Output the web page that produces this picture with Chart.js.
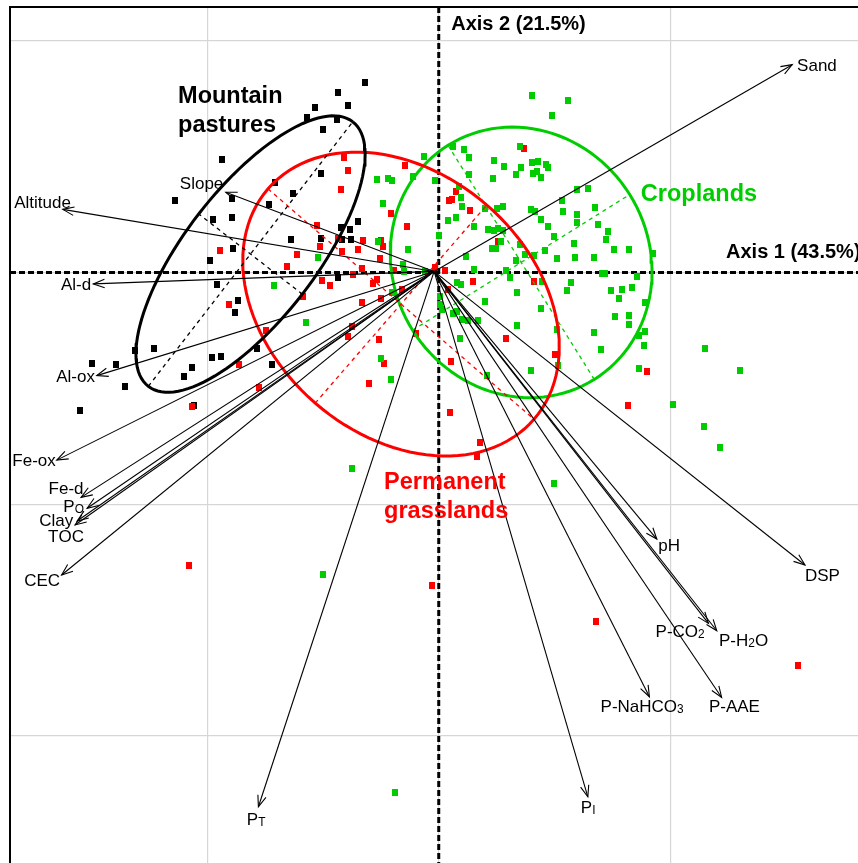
<!DOCTYPE html>
<html>
<head>
<meta charset="utf-8">
<script src="https://cdn.jsdelivr.net/npm/chart.js@4.4.0/dist/chart.umd.min.js"></script>
<style>
  html, body { margin: 0; padding: 0; background: #fff; overflow: hidden; }
  #wrap { width: 858px; height: 863px; position: relative; }
</style>
</head>
<body>
<div id="wrap"><canvas id="biplot" width="858" height="863"></canvas></div>
<script>
// Site scores on the first two PCA axes, by land use
const mountainPastures = [
  [-0.318,0.820],[-0.436,0.778],[-0.390,0.722],[-0.534,0.714],[-0.568,0.671],[-0.441,0.659],
  [-0.501,0.619],[-0.937,0.490],[-0.508,0.430],[-0.706,0.387],[-0.628,0.343],[-1.139,0.311],
  [-0.891,0.321],[-0.734,0.292],[-0.974,0.229],[-0.893,0.239],[-0.350,0.220],[-0.423,0.194],
  [-0.383,0.186],[-0.419,0.141],[-0.380,0.141],[-0.639,0.141],[-0.510,0.146],[-0.887,0.105],
  [-0.987,0.054],[-0.434,-0.021],[-0.956,-0.050],[-0.866,-0.122],[-0.881,-0.173],[-1.229,-0.327],
  [-1.312,-0.338],[-0.978,-0.366],[-0.942,-0.363],[-0.786,-0.328],[-1.064,-0.411],[-1.102,-0.450],
  [-0.721,-0.396],[-1.496,-0.394],[-1.394,-0.399],[-1.355,-0.491],[-1.548,-0.594],[-1.056,-0.576]
];

const permanentGrasslands = [
  [-0.411,0.495],[-0.393,0.443],[-0.145,0.464],[-0.424,0.360],[-0.206,0.256],[-0.138,0.200],
  [-0.527,0.203],[-0.435,0.149],[-0.329,0.137],[-0.513,0.112],[-0.945,0.095],[-0.613,0.079],
  [-0.417,0.093],[-0.350,0.098],[-0.254,0.061],[-0.655,0.025],[-0.333,0.017],[-0.372,-0.010],
  [-0.194,0.007],[-0.268,-0.028],[-0.285,-0.046],[-0.505,-0.036],[-0.470,-0.057],[-0.018,0.024],
  [-0.587,-0.103],[-0.249,-0.112],[-0.159,-0.072],[-0.333,-0.129],[-0.905,-0.140],[-0.746,-0.249],
  [-0.375,-0.231],[-0.390,-0.274],[-0.258,-0.287],[-0.098,-0.263],[-0.863,-0.398],[-0.238,-0.394],
  [-0.300,-0.478],[-0.775,-0.497],[-1.064,-0.578],[-1.077,-1.267],[-0.030,-1.352],[0.679,-1.505],
  [1.551,-1.699],[0.040,-0.071],[0.147,-0.040],[0.412,-0.040],[0.291,-0.285],[0.502,-0.354],
  [0.053,-0.382],[0.900,-0.427],[0.817,-0.573],[0.049,-0.603],[0.178,-0.735],[0.164,-0.795],
  [0.369,0.538],[0.074,0.351],[0.044,0.312],[0.057,0.314],[0.135,0.270],[0.255,0.133],
  [0.027,0.010],[-0.251,0.137],[-0.241,0.111]
];

const croplands = [
  [0.402,0.763],[0.557,0.743],[0.488,0.678],[0.063,0.543],[0.111,0.532],[0.350,0.544],
  [0.132,0.495],[0.239,0.486],[0.282,0.460],[0.403,0.475],[0.427,0.481],[0.357,0.452],
  [0.334,0.425],[0.462,0.466],[0.471,0.452],[0.405,0.428],[0.423,0.435],[0.442,0.410],
  [0.130,0.425],[0.235,0.405],[-0.017,0.399],[0.087,0.371],[0.596,0.360],[0.644,0.364],
  [0.096,0.324],[0.533,0.311],[0.099,0.285],[0.200,0.275],[0.252,0.277],[0.279,0.285],
  [0.399,0.273],[0.417,0.264],[0.536,0.265],[0.674,0.282],[0.075,0.238],[0.038,0.227],
  [0.442,0.230],[0.596,0.249],[0.597,0.218],[0.471,0.201],[0.687,0.208],[0.154,0.198],
  [0.211,0.185],[0.239,0.181],[0.256,0.191],[0.279,0.183],[0.000,0.160],[0.499,0.157],
  [0.733,0.177],[0.721,0.141],[-0.064,0.500],[-0.268,0.401],[-0.221,0.407],[-0.203,0.397],
  [-0.239,0.299],[-0.113,0.414],[-0.264,0.133],[-0.131,0.098],[-0.521,0.063],[-0.711,-0.057],
  [-0.156,0.034],[-0.151,0.005],[-0.059,0.006],[-0.202,-0.086],[-0.575,-0.215],[-0.249,-0.372],
  [-0.207,-0.460],[-0.373,-0.845],[-0.501,-1.306],[-0.189,-2.247],[0.228,0.105],[0.247,0.106],
  [0.269,0.134],[0.351,0.121],[0.584,0.127],[0.757,0.098],[0.822,0.098],[0.926,0.083],
  [0.118,0.069],[0.335,0.051],[0.373,0.080],[0.412,0.073],[0.459,0.096],[0.510,0.060],
  [0.589,0.064],[0.671,0.064],[0.154,0.013],[0.291,0.010],[0.308,-0.022],[0.448,-0.039],
  [0.571,-0.043],[0.553,-0.079],[0.704,-0.005],[0.719,-0.005],[0.855,-0.015],[0.080,-0.041],
  [0.098,-0.053],[0.337,-0.088],[0.743,-0.079],[0.790,-0.071],[0.833,-0.064],[0.779,-0.112],
  [0.892,-0.128],[0.006,-0.104],[0.006,-0.136],[0.015,-0.159],[0.061,-0.176],[0.078,-0.170],
  [0.101,-0.203],[0.127,-0.208],[0.169,-0.205],[0.200,-0.126],[0.442,-0.157],[0.340,-0.229],
  [0.763,-0.189],[0.823,-0.185],[0.821,-0.226],[0.891,-0.255],[0.864,-0.270],[0.885,-0.316],
  [0.671,-0.260],[0.092,-0.286],[0.511,-0.244],[0.702,-0.332],[0.515,-0.401],[0.400,-0.424],
  [0.210,-0.445],[0.867,-0.413],[1.150,-0.330],[1.302,-0.424],[1.013,-0.569],[1.147,-0.663],
  [1.215,-0.755],[0.498,-0.912]
];

// Variable loadings (arrow tips); "_" marks a subscript character
const variableNames = ['Sand','Slope','Altitude','Al-d','Al-ox','Fe-ox','Fe-d','P_O','Clay','TOC',
  'CEC','P_T','P_I','P-NaHCO_3','P-AAE','P-CO_2','P-H_2O','pH','DSP'];
const loadingX = [1.527,-0.920,-1.624,-1.492,-1.477,-1.650,-1.545,-1.519,-1.562,-1.571,
  -1.629,-0.779,0.644,0.910,1.222,1.165,1.201,0.942,1.582];
const loadingY = [0.898,0.347,0.273,-0.049,-0.445,-0.810,-0.971,-1.018,-1.073,-1.090,
  -1.306,-2.307,-2.264,-1.832,-1.835,-1.515,-1.547,-1.151,-1.263];

// Inertia ellipses per group: centre, semi-axes, orientation of the first semi-axis (degrees)
const groupNames = ['Mountain pastures','Permanent grasslands','Croplands'];
const ellipseCX = [-0.813,-0.163,0.356];
const ellipseCY = [0.080,-0.136,0.044];
const ellipseA = [0.722,0.760,0.596];
const ellipseB = [0.283,0.566,0.553];
const ellipseAngle = [52.3,-40.9,-58.0];

// Axis titles
const axisTitles = ['Axis 1 (43.5%)','Axis 2 (21.5%)'];

// ---------------- layout & style ----------------
const COLORS = ['#000000','#ff0000','#00cd00'];
const ARROW_ORIGIN = {x: -0.020, y: 0.005};
const X_RANGE = [-1.852, 1.811];
const Y_RANGE = [-2.550, 1.147];
// label centre offsets from each arrow tip, in pixels
const labelOffsets = [[24.7,-0.2],[-24.2,-9.8],[-20.2,-7.8],[-17.3,0],[-21.2,0],[-22.7,0],[-15,-9.8],
  [-13.5,-2.8],[-21,-1.5],[-9,11],[-19.5,5],[-2.3,12.3],[0.3,10.3],[-7.3,9.3],[12.8,8.7],
  [-28.3,7.7],[26.8,9.3],[12.3,6],[17.5,9.5]];
const FONT = '"Liberation Sans", Arial, Helvetica, sans-serif';

function squareMarker(color) {
  const c = document.createElement('canvas');
  c.width = 6; c.height = 7;
  const g = c.getContext('2d');
  g.fillStyle = color;
  g.fillRect(0, 0, 6, 7);
  return c;
}

function toPoints(list) { return list.map(p => ({x: p[0], y: p[1]})); }

function ellipseOutline(i) {
  const th = ellipseAngle[i] * Math.PI / 180, ct = Math.cos(th), st = Math.sin(th);
  const pts = [];
  for (let k = 0; k <= 120; k++) {
    const t = k * 2 * Math.PI / 120;
    const u = ellipseA[i] * Math.cos(t), v = ellipseB[i] * Math.sin(t);
    pts.push({x: ellipseCX[i] + u * ct - v * st, y: ellipseCY[i] + u * st + v * ct});
  }
  return pts;
}
function ellipseAxis(i, which) {
  const th = ellipseAngle[i] * Math.PI / 180;
  const r = which === 0 ? ellipseA[i] : ellipseB[i];
  const dx = which === 0 ? Math.cos(th) : -Math.sin(th);
  const dy = which === 0 ? Math.sin(th) : Math.cos(th);
  return [{x: ellipseCX[i] - r * dx, y: ellipseCY[i] - r * dy},
          {x: ellipseCX[i] + r * dx, y: ellipseCY[i] + r * dy}];
}

const datasets = [];
// arrows (top-most marks)
variableNames.forEach((n, i) => {
  datasets.push({
    label: n, data: [ARROW_ORIGIN, {x: loadingX[i], y: loadingY[i]}],
    showLine: true, borderColor: '#000', borderWidth: 1.1, pointRadius: 0, order: 1
  });
});
// ellipses and their axes
groupNames.forEach((n, i) => {
  datasets.push({ label: n + ' ellipse', data: ellipseOutline(i), showLine: true,
    borderColor: COLORS[i], borderWidth: 3, pointRadius: 0, tension: 0, order: 2 });
  [0, 1].forEach(w => datasets.push({ label: n + ' axis ' + w, data: ellipseAxis(i, w),
    showLine: true, borderColor: COLORS[i], borderWidth: 1.3, borderDash: [4, 4],
    pointRadius: 0, order: 2 }));
});
// site scores
const groupData = [mountainPastures, permanentGrasslands, croplands];
const groupOrder = [5, 4, 3];
groupData.forEach((g, i) => {
  datasets.push({ label: groupNames[i], data: toPoints(g), pointStyle: squareMarker(COLORS[i]),
    pointRadius: 4, order: groupOrder[i] });
});
// dashed principal axes
datasets.push({ label: 'axis1', data: [{x: X_RANGE[0], y: 0}, {x: X_RANGE[1], y: 0}], showLine: true,
  borderColor: '#000', borderWidth: 3, borderDash: [6, 3], pointRadius: 0, order: 6 });
datasets.push({ label: 'axis2', data: [{x: 0, y: Y_RANGE[1]}, {x: 0, y: Y_RANGE[0]}], showLine: true,
  borderColor: '#000', borderWidth: 3, borderDash: [6, 3], pointRadius: 0, order: 6 });

function drawRich(ctx, text, cx, cy, size) {
  // split into normal / subscript runs
  const runs = [];
  for (let k = 0; k < text.length; k++) {
    if (text[k] === '_' && k + 1 < text.length) { runs.push([text[k + 1], true]); k++; }
    else runs.push([text[k], false]);
  }
  const subSize = size * 0.7;
  let w = 0;
  runs.forEach(r => { ctx.font = (r[1] ? subSize : size) + 'px ' + FONT; w += ctx.measureText(r[0]).width; });
  let x = cx - w / 2;
  ctx.textAlign = 'left';
  ctx.textBaseline = 'alphabetic';
  const base = cy + size * 0.36;
  runs.forEach(r => {
    ctx.font = (r[1] ? subSize : size) + 'px ' + FONT;
    ctx.fillText(r[0], x, r[1] ? base + 1 : base);
    x += ctx.measureText(r[0]).width;
  });
}

const overlay = {
  id: 'overlay',
  beforeDatasetsDraw(chart) {
    const {ctx, chartArea: a} = chart;
    ctx.save();
    ctx.strokeStyle = '#000';
    ctx.lineWidth = 2;
    ctx.beginPath();
    ctx.moveTo(a.left, a.bottom + 5);
    ctx.lineTo(a.left, a.top);
    ctx.lineTo(a.right + 5, a.top);
    ctx.stroke();
    ctx.restore();
  },
  afterDatasetsDraw(chart) {
    const {ctx, scales: {x, y}} = chart;
    ctx.save();
    // arrow heads
    const ox = x.getPixelForValue(ARROW_ORIGIN.x), oy = y.getPixelForValue(ARROW_ORIGIN.y);
    ctx.strokeStyle = '#000';
    ctx.lineWidth = 1.1;
    loadingX.forEach((lx, i) => {
      const tx = x.getPixelForValue(lx), ty = y.getPixelForValue(loadingY[i]);
      const ang = Math.atan2(ty - oy, tx - ox), L = 12, h = 0.36;
      ctx.beginPath();
      ctx.moveTo(tx - L * Math.cos(ang - h), ty - L * Math.sin(ang - h));
      ctx.lineTo(tx, ty);
      ctx.lineTo(tx - L * Math.cos(ang + h), ty - L * Math.sin(ang + h));
      ctx.stroke();
    });
    // variable labels
    ctx.fillStyle = '#000';
    variableNames.forEach((n, i) => {
      const tx = x.getPixelForValue(loadingX[i]) + labelOffsets[i][0];
      const ty = y.getPixelForValue(loadingY[i]) + labelOffsets[i][1];
      drawRich(ctx, n, tx, ty, 17);
    });
    // group names
    ctx.textAlign = 'left';
    ctx.textBaseline = 'alphabetic';
    ctx.font = 'bold 23.5px ' + FONT;
    ctx.fillStyle = COLORS[0];
    ctx.fillText('Mountain', x.getPixelForValue(-1.126), y.getPixelForValue(0.731));
    ctx.fillText('pastures', x.getPixelForValue(-1.126), y.getPixelForValue(0.609));
    ctx.fillStyle = COLORS[1];
    ctx.fillText('Permanent', x.getPixelForValue(-0.236), y.getPixelForValue(-0.936));
    ctx.fillText('grasslands', x.getPixelForValue(-0.236), y.getPixelForValue(-1.058));
    ctx.fillStyle = COLORS[2];
    ctx.fillText('Croplands', x.getPixelForValue(0.873), y.getPixelForValue(0.309));
    // axis titles
    ctx.fillStyle = '#000';
    ctx.font = 'bold 20px ' + FONT;
    ctx.fillText(axisTitles[0], x.getPixelForValue(1.241), y.getPixelForValue(0.063));
    ctx.fillText(axisTitles[1], x.getPixelForValue(0.054), y.getPixelForValue(1.048));
    ctx.restore();
  }
};

const gridTicks = values => scale => { scale.ticks = values.map(v => ({value: v})); };

new Chart(document.getElementById('biplot'), {
  type: 'scatter',
  data: { datasets },
  options: {
    responsive: false,
    animation: false,
    events: [],
    layout: { autoPadding: false, padding: { left: 10, top: 7, right: 0, bottom: 0 } },
    plugins: { legend: { display: false }, tooltip: { enabled: false } },
    scales: {
      x: {
        type: 'linear', min: X_RANGE[0], max: X_RANGE[1],
        afterBuildTicks: gridTicks([-1, 0, 1]),
        ticks: { display: false },
        border: { display: false },
        grid: { color: '#d6d6d6', lineWidth: 1.2, drawTicks: false }
      },
      y: {
        type: 'linear', min: Y_RANGE[0], max: Y_RANGE[1],
        afterBuildTicks: gridTicks([-2, -1, 0, 1]),
        ticks: { display: false },
        border: { display: false },
        grid: { color: '#d6d6d6', lineWidth: 1.2, drawTicks: false }
      }
    }
  },
  plugins: [overlay]
});
</script>
</body>
</html>
